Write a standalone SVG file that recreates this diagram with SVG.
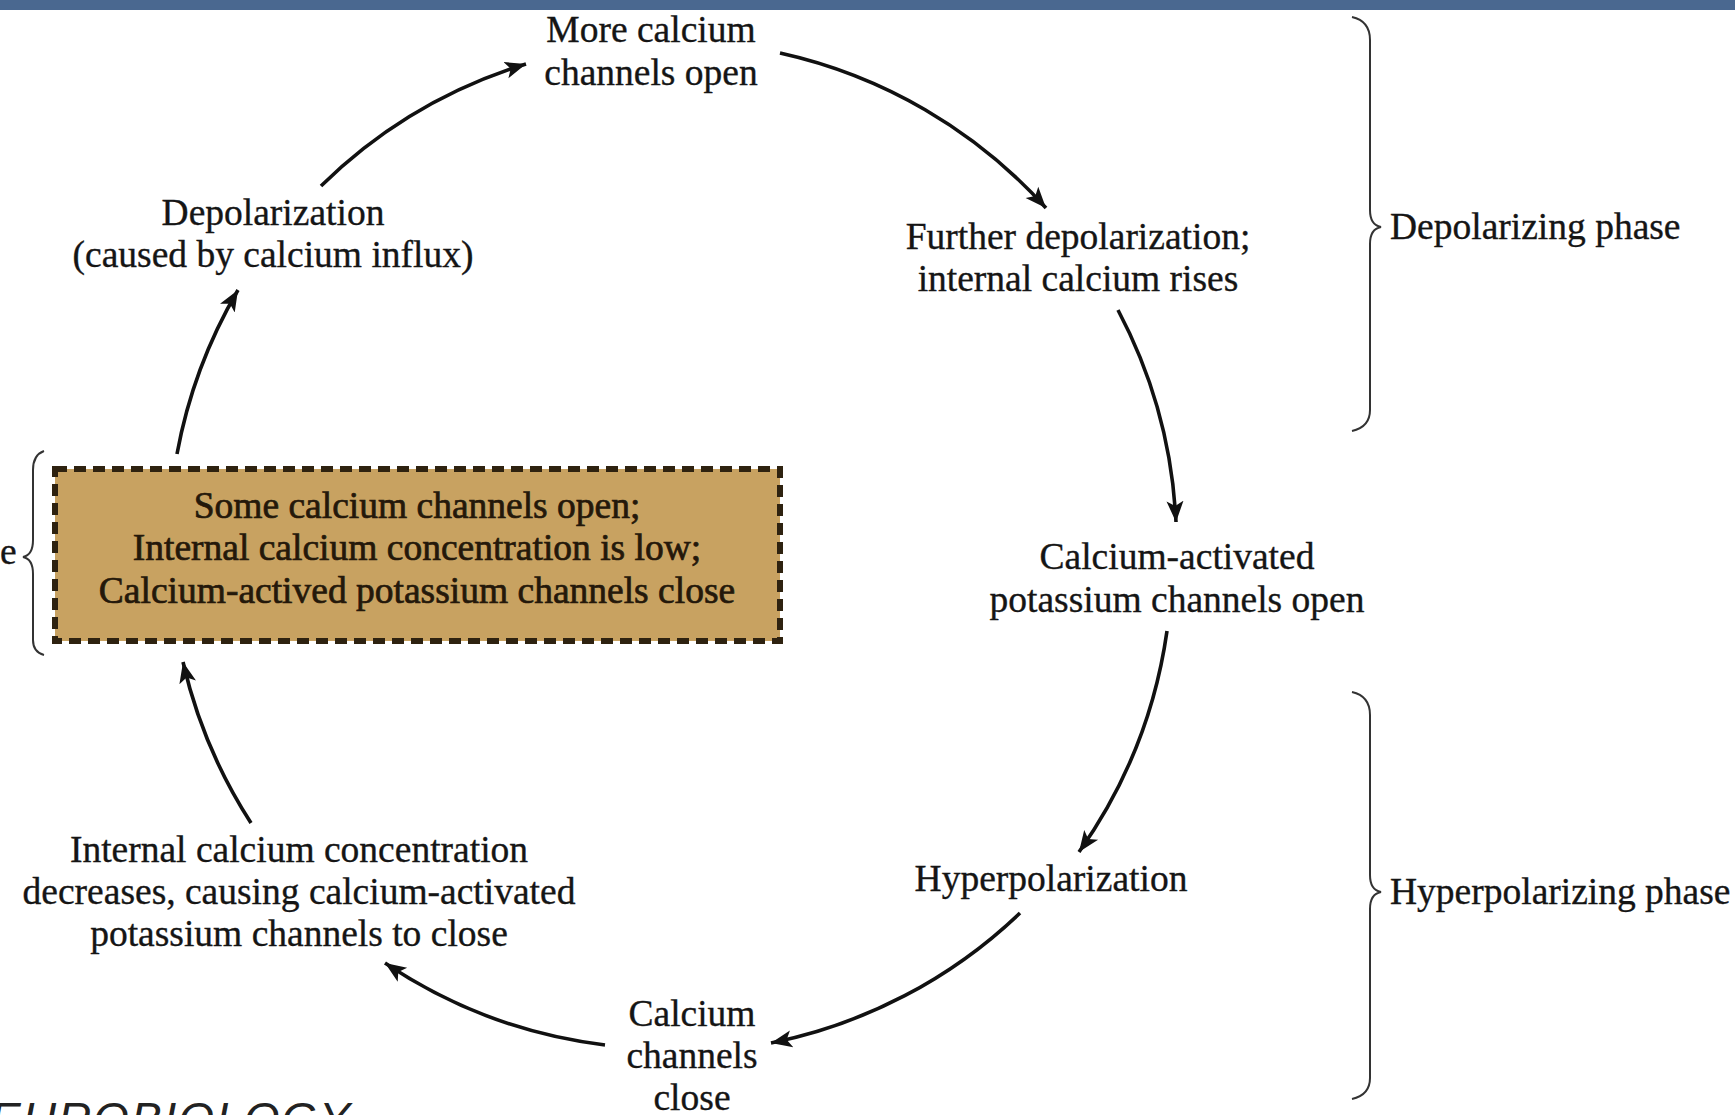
<svg xmlns="http://www.w3.org/2000/svg" width="1735" height="1115" viewBox="0 0 1735 1115">
<defs>
<style>
.t{font-family:"Liberation Serif","Times New Roman",serif;font-size:37.5px;fill:#151515;stroke:#151515;stroke-width:0.35;text-anchor:middle}
.ts{font-family:"Liberation Serif","Times New Roman",serif;font-size:37.5px;fill:#151515;stroke:#151515;stroke-width:0.35}
.bt{font-family:"Liberation Serif","Times New Roman",serif;font-size:37.5px;fill:#24180a;stroke:#24180a;stroke-width:0.7;text-anchor:middle}
.c{fill:none;stroke:#111;stroke-width:3.6}
.br{fill:none;stroke:#333;stroke-width:2}
</style>
<marker id="ah" markerUnits="userSpaceOnUse" markerWidth="28" markerHeight="22" refX="21" refY="11" orient="auto">
<path d="M0,2.5 L21,11 L0,19.5 L5,11 Z" fill="#111"/>
</marker>
</defs>
<rect x="0" y="0" width="1735" height="1115" fill="#ffffff"/>
<rect x="0" y="0" width="1735" height="10" fill="#4a6890"/>

<g id="connectors">
<path class="c" d="M321 186 A505 505 0 0 1 526 64" marker-end="url(#ah)"/>
<path class="c" d="M780 53 A505 505 0 0 1 1046 208" marker-end="url(#ah)"/>
<path class="c" d="M1118 310 A505 505 0 0 1 1176 522" marker-end="url(#ah)"/>
<path class="c" d="M1167 631 A505 505 0 0 1 1079 852" marker-end="url(#ah)"/>
<path class="c" d="M1020 913 A505 505 0 0 1 771 1043" marker-end="url(#ah)"/>
<path class="c" d="M605 1045 A505 505 0 0 1 385 963" marker-end="url(#ah)"/>
<path class="c" d="M251 823 A505 505 0 0 1 183 662" marker-end="url(#ah)"/>
<path class="c" d="M177 454 A505 505 0 0 1 238 290" marker-end="url(#ah)"/>
</g>

<g id="node-more-calcium">
<text class="t" x="651" y="42">More calcium</text>
<text class="t" x="651" y="85">channels open</text>
</g>
<g id="node-further">
<text class="t" x="1078" y="249">Further depolarization;</text>
<text class="t" x="1078" y="291">internal calcium rises</text>
</g>
<g id="node-k-open">
<text class="t" x="1177" y="569">Calcium-activated</text>
<text class="t" x="1177" y="612">potassium channels open</text>
</g>
<g id="node-hyper">
<text class="t" x="1051" y="891">Hyperpolarization</text>
</g>
<g id="node-ca-close">
<text class="t" x="692" y="1026">Calcium</text>
<text class="t" x="692" y="1068">channels</text>
<text class="t" x="692" y="1110">close</text>
</g>
<g id="node-internal-decrease">
<text class="t" x="299" y="862">Internal calcium concentration</text>
<text class="t" x="299" y="904">decreases, causing calcium-activated</text>
<text class="t" x="299" y="946">potassium channels to close</text>
</g>
<g id="node-depolarization">
<text class="t" x="273" y="225">Depolarization</text>
<text class="t" x="273" y="267">(caused by calcium influx)</text>
</g>
<g id="node-rest">
<rect x="55" y="469" width="725" height="172" fill="#c8a261" stroke="#2e2210" stroke-width="6" stroke-dasharray="12 7"/>
<text class="bt" x="417" y="518">Some calcium channels open;</text>
<text class="bt" x="417" y="560">Internal calcium concentration is low;</text>
<text class="bt" x="417" y="603">Calcium-actived potassium channels close</text>
</g>

<g id="brace-left">
<path class="br" d="M44 451 Q33 455 33 470 L33 540 Q33 555 23 557 Q33 559 33 574 L33 640 Q33 652 44 655"/>
<text class="ts" x="0" y="564">e</text>
</g>
<g id="brace-depolarizing">
<path class="br" d="M1352 17 Q1370 21 1370 40 L1370 210 Q1370 225 1381 227 Q1370 229 1370 244 L1370 410 Q1370 427 1352 431"/>
<text class="ts" x="1390" y="239">Depolarizing phase</text>
</g>
<g id="brace-hyperpolarizing">
<path class="br" d="M1352 692 Q1370 696 1370 715 L1370 875 Q1370 890 1381 892 Q1370 894 1370 909 L1370 1078 Q1370 1095 1352 1099"/>
<text class="ts" x="1390" y="904">Hyperpolarizing phase</text>
</g>

<text x="-10" y="1135" font-family="'Liberation Sans',Arial,sans-serif" font-style="italic" font-size="46" fill="#222" letter-spacing="2">EUROBIOLOGY</text>
</svg>
